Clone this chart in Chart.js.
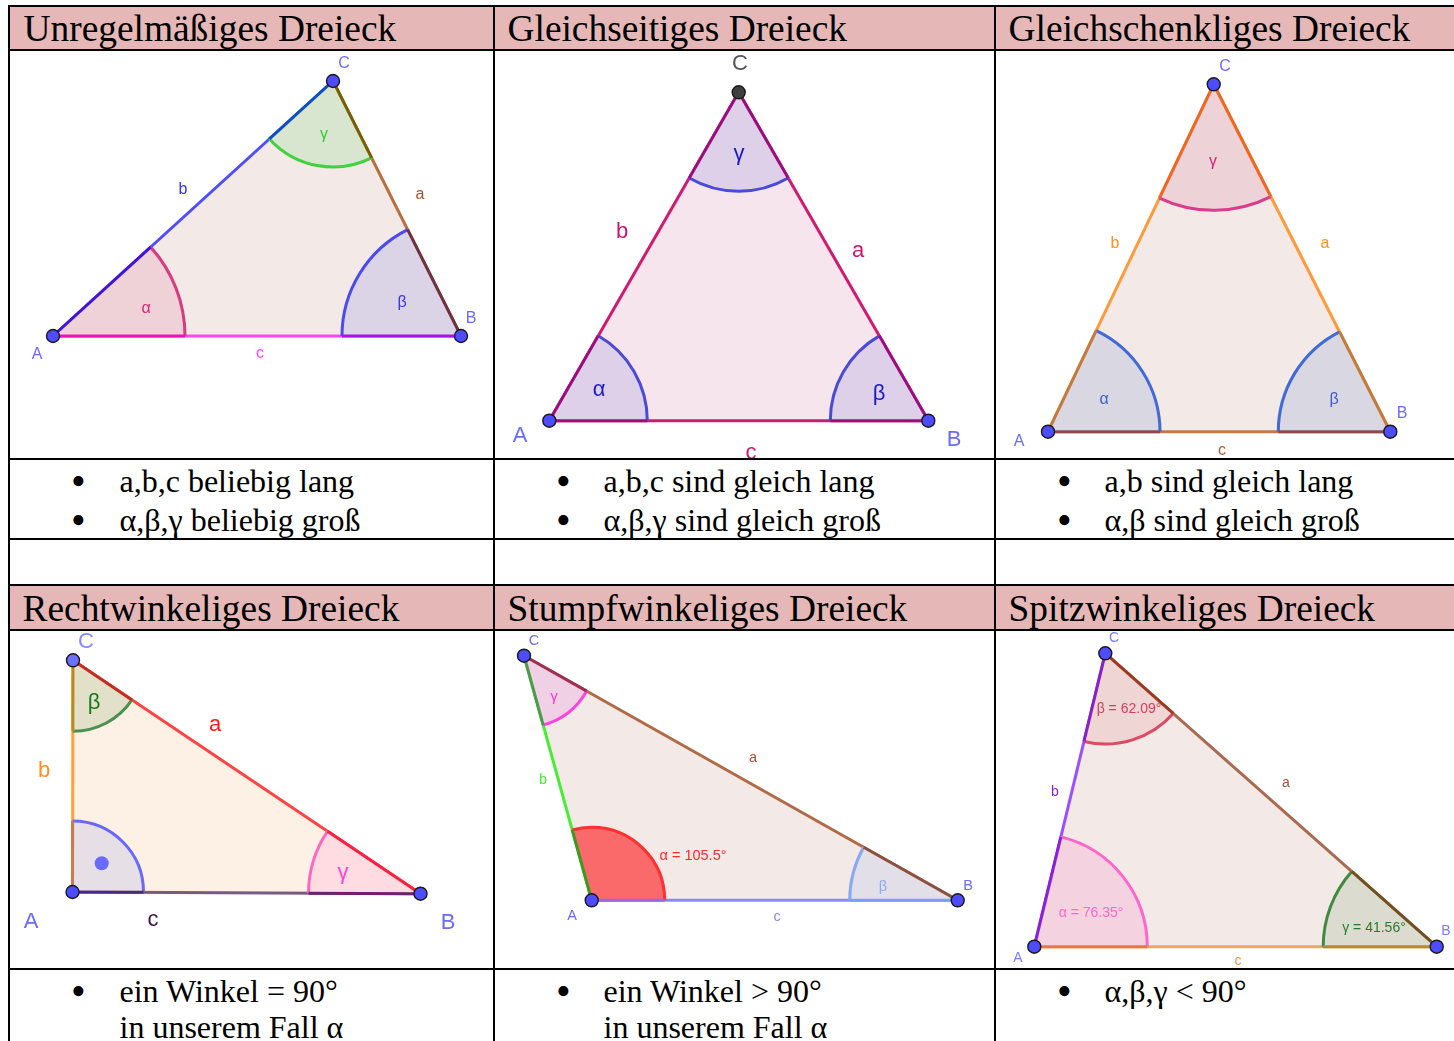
<!DOCTYPE html>
<html>
<head>
<meta charset="utf-8">
<title>Dreiecke</title>
<script src="https://cdn.jsdelivr.net/npm/chart.js"></script>
<style>
  html, body { margin: 0; padding: 0; background: #fff; }
  #page { position: relative; width: 1454px; height: 1041px; overflow: hidden; font-family: "Liberation Serif", serif; color: #000; }
  #page div { position: absolute; white-space: nowrap; }
  .band { background: #e5b8b7; }
  .rule { background: #000; }
  .title { font-size: 37.4px; line-height: 44px; }
  .note { font-size: 32px; line-height: 38px; }
  .dot { font-size: 42px; line-height: 38px; }
  canvas { position: absolute; display: block; }
</style>
</head>
<body>
<div id="page"></div>
<script>
const titles = ['Unregelmäßiges Dreieck', 'Gleichseitiges Dreieck', 'Gleichschenkliges Dreieck',
  'Rechtwinkeliges Dreieck', 'Stumpfwinkeliges Dreieck', 'Spitzwinkeliges Dreieck'];
const notes = [
  ['a,b,c beliebig lang', 'α,β,γ beliebig groß'],
  ['a,b,c sind gleich lang', 'α,β,γ sind gleich groß'],
  ['a,b sind gleich lang', 'α,β sind gleich groß'],
  ['ein Winkel = 90°', 'in unserem Fall α'],
  ['ein Winkel > 90°', 'in unserem Fall α'],
  ['α,β,γ < 90°']
];
const vertexA = [[53, 336], [549.3, 420.7], [1048, 431.7], [72.5, 892], [591.7, 900.3], [1034.3, 946.7]];
const vertexB = [[461, 336], [928.3, 420.7], [1390.3, 431.7], [420.5, 893.7], [957.7, 900.3], [1436.7, 946.7]];
const vertexC = [[333, 81], [738.7, 92.3], [1213.7, 84.3], [73, 660.3], [524, 655.7], [1105.3, 653.3]];
const angleRadius = [[132, 119, 86], [98, 98, 99], [112, 112, 126], [71, 112, 71], [73, 108, 72], [113, 113.5, 90.7]];
// T4 has a right angle dot
const rightAngleDot = [101.7, 863.3];

const labelTexts = [
  ['C', 'a', 'b', 'A', 'B', 'c', 'α', 'β', 'γ'],
  ['C', 'a', 'b', 'A', 'B', 'c', 'α', 'β', 'γ'],
  ['C', 'a', 'b', 'A', 'B', 'c', 'α', 'β', 'γ'],
  ['C', 'a', 'b', 'A', 'B', 'c', 'β', 'γ'],
  ['C', 'a', 'b', 'A', 'B', 'c', 'γ', 'β', 'α = 105.5°'],
  ['C', 'a', 'b', 'A', 'B', 'c', 'α = 76.35°', 'β = 62.09°', 'γ = 41.56°']
];
const labelX = [
  [344, 420, 183, 37, 471, 260, 146, 402, 324],
  [740, 858, 622, 520, 954, 751, 599, 879, 739],
  [1225, 1325, 1115, 1019, 1402, 1222, 1104, 1334, 1213],
  [86, 215, 44, 31, 448, 153, 94, 343],
  [534, 753, 543, 572, 968, 777, 554, 883, 693],
  [1114, 1286, 1055, 1018, 1446, 1238, 1091, 1129, 1374]
];
const labelY = [
  [63.5, 194.5, 189.5, 354.5, 318.5, 353.5, 308.5, 302.5, 134.5],
  [63.5, 250.5, 231.5, 435.5, 439.5, 452.5, 389.5, 393.5, 153.5],
  [66.5, 243.5, 243.5, 441.5, 413.5, 450.5, 399.5, 399.5, 161.5],
  [641.5, 724.5, 770.5, 921.5, 922.5, 919.5, 702.5, 872.5],
  [640.5, 757.5, 779.5, 915.5, 885.5, 916.5, 696.5, 886.5, 855.5],
  [638.5, 783.5, 792.5, 958.5, 931.5, 961.5, 913.5, 709.5, 928.5]
];

const labelSize = [16, 22, 16, 22, 14.5, 14];
const labelColors = [
  ['#6a6aff', '#a5522a', '#3333ff', '#6a6aff', '#6a6aff', '#ff44ff', '#dd2277', '#3333ff', '#33cc33'],
  ['#555555', '#d0156b', '#d0156b', '#6a6aff', '#6a6aff', '#d0156b', '#1a1acc', '#1a1acc', '#1a1acc'],
  ['#6a6aff', '#ff9020', '#ff9020', '#6a6aff', '#6a6aff', '#b05a30', '#3a60d0', '#3a60d0', '#d8207a'],
  ['#8888ff', '#ff1a1a', '#ff9020', '#6a6aff', '#6a6aff', '#40104a', '#1a7a1a', '#ff44cc'],
  ['#6a6aff', '#a5522a', '#44ee33', '#6a6aff', '#6a6aff', '#8888ff', '#ff33cc', '#88aaf0', '#ff2828'],
  ['#7a7aff', '#a05030', '#8a20e0', '#7a7aff', '#7a7aff', '#f59040', '#ff66cc', '#dc3c5c', '#2a7a2a']
];
const triangleFill = ['#f3e9e6', '#f6e5ed', '#f3e9e6', '#fdf1e6', '#f3e9e6', '#f3e9e6'];
const pointColors = [
  ['#4d4dff', '#4d4dff', '#4d4dff'],
  ['#4d4dff', '#4d4dff', '#404040'],
  ['#4d4dff', '#4d4dff', '#4d4dff'],
  ['#4d4dff', '#4d4dff', '#7070ff'],
  ['#4d4dff', '#4d4dff', '#4d4dff'],
  ['#4d4dff', '#4d4dff', '#4d4dff']
];
// side colours in order a, b, c
const sideColors = [
  ['#b8703f', '#4d4dff', '#ff44f0'],
  ['#d01a70', '#d01a70', '#d01a70'],
  ['#ff9a3a', '#ff9a3a', '#c47a44'],
  ['#ff4444', '#ffa040', '#7a5a80'],
  ['#b06a45', '#44ee33', '#8888ff'],
  ['#a86a50', '#9a50ff', '#f5a55a']
];
// per angle at A, B, C: fill, arc, colour of the two sides inside the angle
// (A: c then b, B: c then a, C: b then a)
const angleLooks = [
  [['#eed2d8', '#d63c80', '#f010c0', '#4015d8'], ['#dbd3e6', '#4a4af0', '#b010f0', '#70303f'], ['#d9e6cf', '#40d040', '#0a50c0', '#756000']],
  [['#dfd0e9', '#4a4ad8', '#9c0d80', '#9c0d80'], ['#dfd0e9', '#4a4ad8', '#9c0d80', '#9c0d80'], ['#dfd0e9', '#4a4ad8', '#9c0d80', '#9c0d80']],
  [['#d9d7e1', '#4169d8', '#8a4a50', '#c47a3c'], ['#d9d7e1', '#4169d8', '#8a4a50', '#c47a3c'], ['#edd2d8', '#db3b8c', '#f06520', '#f06520']],
  [['#e6dfe6', '#6868ff', '#4a2a80', '#c87a50'], ['#ffdce2', '#ff66c0', '#702070', '#ff2040'], ['#e2e0c8', '#4a9050', '#b88a20', '#c03020']],
  [['#fb6a6a', '#ff3030', '#9966ee', '#3c9a20'], ['#e2dfe8', '#88aaf0', '#7f9fff', '#8c5040'], ['#f0d0e5', '#ff44dd', '#4a9a4a', '#a03050']],
  [['#f5d2e0', '#ff66cc', '#f87040', '#8a20d8'], ['#dbdbcf', '#408a40', '#b88a30', '#705020'], ['#f0d5d5', '#dc4a66', '#8a20c8', '#9a3a20']]
];

const page = document.querySelector('#page');
function box(cls, left, top, width, height, text) {
  const el = document.createElement('div');
  el.className = cls;
  el.style.left = left + 'px';
  el.style.top = top + 'px';
  if (width !== null) el.style.width = width + 'px';
  if (height !== null) el.style.height = height + 'px';
  if (text) el.textContent = text;
  page.appendChild(el);
  return el;
}

// cells of the table
const cellLeft = [10, 495, 996];
const cellRight = [493, 994, 1454];
const rowTop = [51, 631];
const rowBottom = [458, 968];

box('band', 10, 7, 1444, 42);
box('band', 10, 586, 1444, 43);
[5, 49, 458, 538, 584, 629, 968].forEach(y => box('rule', 8, y, 1446, 2));
[8, 493, 994].forEach(x => box('rule', x, 5, 2, 1036));

const titleX = [23.5, 507.5, 1008.5, 22.5, 507.5, 1008.5];
const titleTop = [7, 7, 7, 587, 587, 587];
titles.forEach((t, i) => box('title', titleX[i], titleTop[i], null, null, t));

const bulletX = [71, 556, 1057];
const noteX = [119.5, 603.5, 1104.5];
const noteTop = [[462, 501], [972, 1008]];
notes.forEach((lines, i) => {
  const col = i % 3;
  const row = i < 3 ? 0 : 1;
  lines.forEach((line, j) => {
    const withBullet = row === 0 || j === 0;
    if (withBullet) box('dot', bulletX[col], noteTop[row][j], null, null, '•');
    box('note', noteX[col], noteTop[row][j], null, null, line);
  });
});

function pt(p) { return {x: p[0], y: p[1]}; }

const anglePlugin = {
  id: 'angles',
  afterDatasetDraw(chart, args) {
    if (args.index !== 1) return;
    const ctx = chart.ctx;
    const {x, y} = chart.scales;
    const i = chart.options.plugins.angles.tri;
    const v = [vertexA[i], vertexB[i], vertexC[i]];
    const px = v.map(p => [x.getPixelForValue(p[0]), y.getPixelForValue(p[1])]);
    // A looks at B and C, B at A and C, C at A and B
    [[0, 1, 2], [1, 0, 2], [2, 0, 1]].forEach(([at, p, q], k) => {
      const r = x.getPixelForValue(v[at][0] + angleRadius[i][k]) - px[at][0];
      const a0 = Math.atan2(px[p][1] - px[at][1], px[p][0] - px[at][0]);
      const a1 = Math.atan2(px[q][1] - px[at][1], px[q][0] - px[at][0]);
      let d = a1 - a0;
      while (d > Math.PI) d -= 2 * Math.PI;
      while (d < -Math.PI) d += 2 * Math.PI;
      const look = angleLooks[i][k];
      ctx.save();
      ctx.beginPath();
      ctx.moveTo(px[at][0], px[at][1]);
      ctx.arc(px[at][0], px[at][1], r, a0, a1, d < 0);
      ctx.closePath();
      ctx.fillStyle = look[0];
      ctx.fill();
      ctx.beginPath();
      ctx.arc(px[at][0], px[at][1], r, a0, a1, d < 0);
      ctx.strokeStyle = look[1];
      ctx.lineWidth = 3;
      ctx.stroke();
      [a0, a1].forEach((a, n) => {
        ctx.beginPath();
        ctx.moveTo(px[at][0], px[at][1]);
        ctx.lineTo(px[at][0] + r * Math.cos(a), px[at][1] + r * Math.sin(a));
        ctx.strokeStyle = look[2 + n];
        ctx.lineWidth = 3;
        ctx.stroke();
      });
      ctx.restore();
    });
  },
  afterDatasetsDraw(chart) {
    const ctx = chart.ctx;
    const {x, y} = chart.scales;
    const i = chart.options.plugins.angles.tri;
    ctx.save();
    ctx.font = labelSize[i] + 'px "Liberation Sans", sans-serif';
    ctx.textAlign = 'center';
    ctx.textBaseline = 'middle';
    labelTexts[i].forEach((t, n) => {
      ctx.fillStyle = labelColors[i][n];
      ctx.fillText(t, x.getPixelForValue(labelX[i][n]), y.getPixelForValue(labelY[i][n]));
    });
    ctx.restore();
  }
};

function drawTriangle(i) {
  const col = i % 3;
  const row = i < 3 ? 0 : 1;
  const canvas = document.createElement('canvas');
  canvas.width = cellRight[col] - cellLeft[col];
  canvas.height = rowBottom[row] - rowTop[row];
  canvas.style.left = cellLeft[col] + 'px';
  canvas.style.top = rowTop[row] + 'px';
  page.appendChild(canvas);

  const A = pt(vertexA[i]), B = pt(vertexB[i]), C = pt(vertexC[i]);
  const points = [A, B, C];
  const colors = pointColors[i].slice();
  const radii = [6.5, 6.5, 6.5];
  const borders = [1.4, 1.4, 1.4];
  if (i === 3) {
    points.push(pt(rightAngleDot));
    colors.push('#6a6aff');
    radii.push(7);
    borders.push(0);
  }
  const side = (data, color) => ({data, showLine: true, borderColor: color, borderWidth: 3, pointRadius: 0, fill: false});
  new Chart(canvas, {
    type: 'scatter',
    data: {
      datasets: [
        {data: points, showLine: false, pointRadius: radii, pointBackgroundColor: colors, pointBorderColor: '#1a1a1a', pointBorderWidth: borders},
        side([B, C], sideColors[i][0]),
        side([A, C], sideColors[i][1]),
        side([A, B], sideColors[i][2]),
        {data: [A, B, C, A], showLine: true, borderWidth: 0, pointRadius: 0, fill: 'shape', backgroundColor: triangleFill[i]}
      ]
    },
    options: {
      responsive: false,
      animation: false,
      events: [],
      layout: {padding: 0, autoPadding: false},
      scales: {
        x: {display: false, min: cellLeft[col], max: cellRight[col]},
        y: {display: false, reverse: true, min: rowTop[row], max: rowBottom[row]}
      },
      plugins: {legend: {display: false}, tooltip: {enabled: false}, angles: {tri: i}}
    },
    plugins: [anglePlugin]
  });
}

titles.forEach((t, i) => drawTriangle(i));
</script>
</body>
</html>
